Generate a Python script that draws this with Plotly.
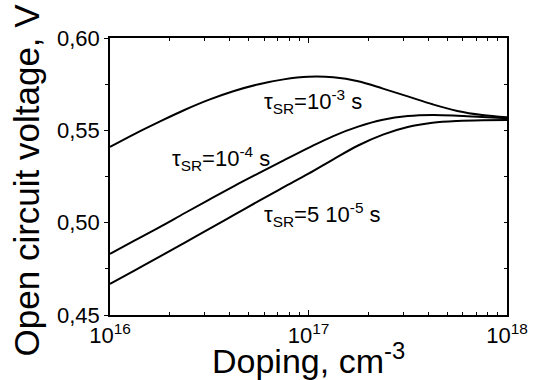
import plotly.graph_objects as go

# ---- data ----
log_doping = [16.0, 16.125, 16.25, 16.375, 16.5, 16.625, 16.75, 16.875, 17.0,
              17.125, 17.25, 17.375, 17.5, 17.625, 17.75, 17.875, 18.0]
voc_tau_1e3 = [0.5410, 0.5481, 0.5547, 0.5610, 0.5666, 0.5713, 0.5750, 0.5776, 0.5790,
               0.5787, 0.5766, 0.5726, 0.5684, 0.5641, 0.5605, 0.5583, 0.5571]
voc_tau_1e4 = [0.4831, 0.4904, 0.4976, 0.5051, 0.5125, 0.5198, 0.5268, 0.5337, 0.5405,
               0.5469, 0.5520, 0.5557, 0.5577, 0.5583, 0.5579, 0.5572, 0.5566]
voc_tau_5e5 = [0.4668, 0.4742, 0.4816, 0.4891, 0.4966, 0.5042, 0.5118, 0.5192, 0.5265,
               0.5343, 0.5418, 0.5477, 0.5518, 0.5541, 0.5551, 0.5555, 0.5556]

labels = ["τ<sub>SR</sub>=10<sup>-3</sup> s",
          "τ<sub>SR</sub>=10<sup>-4</sup> s",
          "τ<sub>SR</sub>=5 10<sup>-5</sup> s"]
label_x = [16.764, 16.302, 16.768]      # log10 position of label's left edge
label_y = [0.5656, 0.5346, 0.5042]

x_tickvals = [1e16, 1e17, 1e18]
x_ticktext = ["10<sup>16</sup>", "10<sup>17</sup>", "10<sup>18</sup>"]
x_minor = [k * 10 ** e for e in (16, 17) for k in range(2, 10)]
y_tickvals = [0.45, 0.50, 0.55, 0.60]
y_ticktext = ["0,45", "0,50", "0,55", "0,60"]
y_minor = [0.475, 0.525, 0.575]

FONT = "Liberation Sans, Arial, sans-serif"

doping = [10 ** v for v in log_doping]

fig = go.Figure()
for ys in (voc_tau_1e3, voc_tau_1e4, voc_tau_5e5):
    fig.add_trace(go.Scatter(x=doping, y=ys, mode="lines",
                             line=dict(color="black", width=2, shape="spline", smoothing=1.0),
                             showlegend=False, hoverinfo="skip"))
# dummy trace to anchor the right-hand axis
fig.add_trace(go.Scatter(x=[], y=[], yaxis="y2", showlegend=False, hoverinfo="skip"))

for t, lx, ly in zip(labels, label_x, label_y):
    fig.add_annotation(x=lx, y=ly, xref="x", yref="y", text=t, showarrow=False,
                       xanchor="left", yanchor="middle",
                       font=dict(family=FONT, size=22, color="black"))

# axis titles
fig.add_annotation(x=0.5, y=-0.158, xref="paper", yref="paper", text="Doping, cm<sup>-3</sup>",
                   showarrow=False, xanchor="center", yanchor="middle",
                   font=dict(family=FONT, size=34, color="black"))
fig.add_annotation(x=-0.21, y=0.488, xref="paper", yref="paper", text="Open circuit voltage, V",
                   showarrow=False, xanchor="center", yanchor="middle", textangle=-90,
                   font=dict(family=FONT, size=35, color="black"))

fig.update_layout(
    width=540, height=380,
    margin=dict(l=110, r=22, t=38, b=65),
    paper_bgcolor="white", plot_bgcolor="white",
    font=dict(family=FONT, color="black"),
    xaxis=dict(type="log", range=[16, 18], showgrid=False, zeroline=False,
               showline=True, linecolor="black", linewidth=1.5, mirror="ticks",
               ticks="inside", ticklen=5, tickwidth=1.2, tickcolor="black",
               tickmode="array", tickvals=x_tickvals, ticktext=x_ticktext,
               tickfont=dict(family=FONT, size=22, color="black"),
               minor=dict(tickmode="array", tickvals=x_minor, ticks="inside",
                          ticklen=3, tickwidth=1, tickcolor="black", showgrid=False)),
    yaxis=dict(range=[0.45, 0.60], showgrid=False, zeroline=False,
               showline=True, linecolor="black", linewidth=1.5,
               ticks="outside", ticklen=4, tickwidth=1.2, tickcolor="black",
               tickmode="array", tickvals=y_tickvals, ticktext=y_ticktext,
               tickfont=dict(family=FONT, size=22, color="black"),
               minor=dict(tickmode="array", tickvals=y_minor, ticks="outside",
                          ticklen=3, tickwidth=1, tickcolor="black", showgrid=False)),
    yaxis2=dict(overlaying="y", side="right", range=[0.45, 0.60], showgrid=False,
                zeroline=False, showline=True, linecolor="black", linewidth=1.5,
                ticks="inside", ticklen=3, tickwidth=1.2, tickcolor="black",
                tickmode="array", tickvals=y_tickvals, showticklabels=False,
                minor=dict(tickmode="array", tickvals=y_minor, ticks="inside",
                           ticklen=3, tickwidth=1, tickcolor="black", showgrid=False)),
)

fig.write_html("out.html")
